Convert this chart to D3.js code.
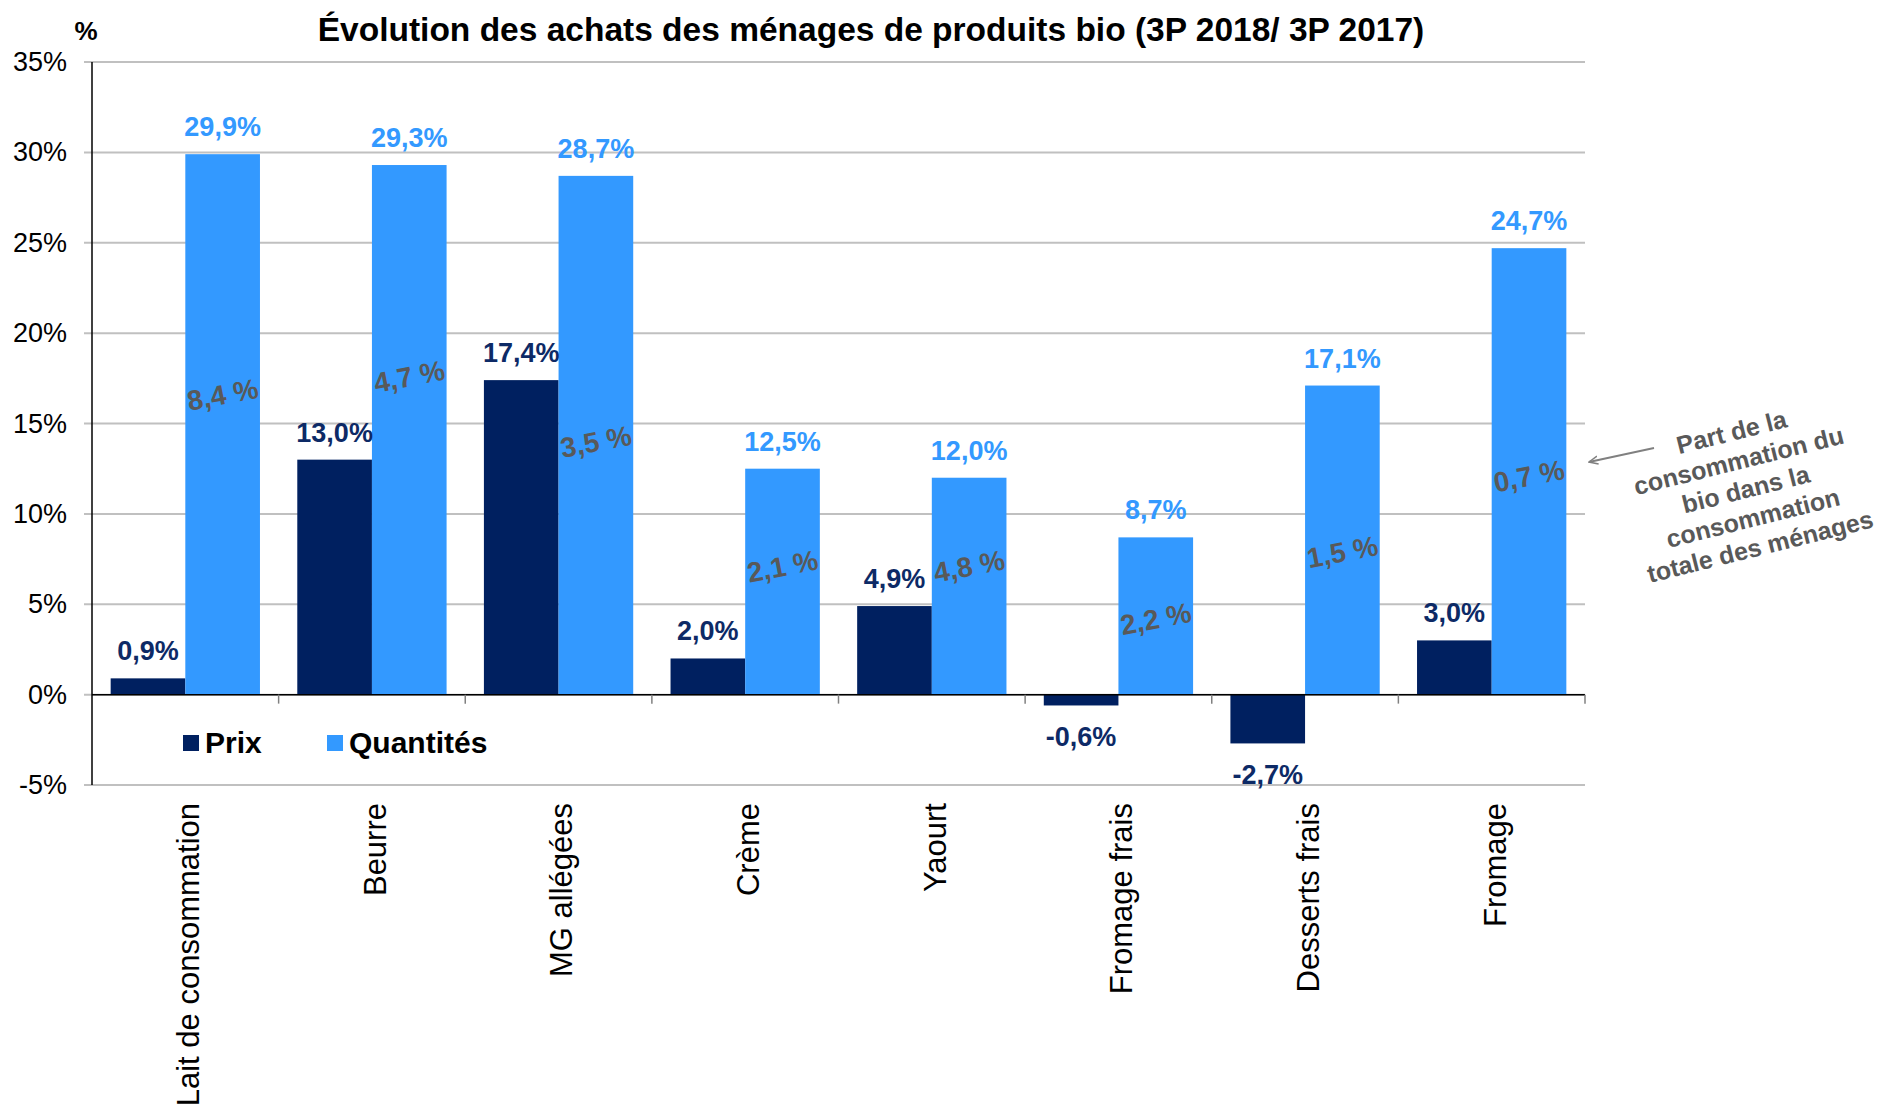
<!DOCTYPE html>
<html>
<head>
<meta charset="utf-8">
<script src="https://cdn.jsdelivr.net/npm/d3@7"></script>
<style>
  body { margin: 0; background: #fff; }
  text { font-family: "Liberation Sans", Arial, sans-serif; }
</style>
</head>
<body>
<script>
// data
var categories = ["Lait de consommation", "Beurre", "MG allégées", "Crème", "Yaourt", "Fromage frais", "Desserts frais", "Fromage"];
var series = ["Prix", "Quantités"];
var prix = [0.9, 13.0, 17.4, 2.0, 4.9, -0.6, -2.7, 3.0];
var quantites = [29.9, 29.3, 28.7, 12.5, 12.0, 8.7, 17.1, 24.7];
var partBio = [8.4, 4.7, 3.5, 2.1, 4.8, 2.2, 1.5, 0.7];
var yTicks = [-5, 0, 5, 10, 15, 20, 25, 30, 35];
var noteLines = ["Part de la", "consommation du", "bio dans la", "consommation", "totale des ménages"];

var width = 1879, height = 1109;
var colors = {"Prix": "#002060", "Quantités": "#3399ff"};
var labelColors = {"Prix": "#0d2a66", "Quantités": "#3399ff"};

// where the grey share labels sit (in % units of the y axis)
var partLabelAt = [16.6, 17.6, 14.0, 7.1, 7.1, 4.2, 7.9, 12.1];

var svg = d3.select("body").append("svg").attr("width", width).attr("height", height);

var x0 = d3.scaleBand().domain(categories).range([92, 1585]).paddingInner(0.2).paddingOuter(0.1);
var x1 = d3.scaleBand().domain(series).range([0, x0.bandwidth()]);
var y = d3.scaleLinear().domain([-5, 35]).range([785, 62]);
var step = x0.step();

var fmt = function(v){ return d3.format(".1f")(v).replace(".", ",").replace("\u2212", "-") + "%"; };

// gridlines
svg.append("g").selectAll("line").data(yTicks).enter().append("line")
  .attr("x1", 84).attr("x2", 1585)
  .attr("y1", function(d){ return y(d); }).attr("y2", function(d){ return y(d); })
  .attr("stroke", "#c0c0c0").attr("stroke-width", 2);

svg.append("g").selectAll("text").data(yTicks).enter().append("text")
  .attr("x", 67).attr("y", function(d){ return y(d) + 9; })
  .attr("text-anchor", "end").attr("font-size", 27).attr("fill", "#000")
  .text(function(d){ return d + "%"; });

// bars
var rows = categories.map(function(c, i){ return {cat: c, i: i, vals: [{s: "Prix", v: prix[i]}, {s: "Quantités", v: quantites[i]}]}; });

var groups = svg.append("g").selectAll("g").data(rows).enter().append("g")
  .attr("transform", function(d){ return "translate(" + x0(d.cat) + ",0)"; });

groups.selectAll("rect").data(function(d){ return d.vals; }).enter().append("rect")
  .attr("x", function(d){ return x1(d.s); })
  .attr("width", x1.bandwidth())
  .attr("y", function(d){ return y(Math.max(0, d.v)); })
  .attr("height", function(d){ return Math.abs(y(d.v) - y(0)); })
  .attr("fill", function(d){ return colors[d.s]; });

groups.selectAll("text.val").data(function(d){ return d.vals; }).enter().append("text")
  .attr("class", "val")
  .attr("x", function(d){ return x1(d.s) + x1.bandwidth() / 2; })
  .attr("y", function(d){ return d.v >= 0 ? y(d.v) - 18 : y(d.v) + 41; })
  .attr("text-anchor", "middle").attr("font-size", 27).attr("font-weight", "bold")
  .attr("fill", function(d){ return labelColors[d.s]; })
  .text(function(d){ return fmt(d.v); });

// grey share labels
svg.append("g").selectAll("text").data(rows).enter().append("text")
  .attr("transform", function(d){
    var cx = x0(d.cat) + x1("Quantités") + x1.bandwidth() / 2;
    return "translate(" + cx + "," + y(partLabelAt[d.i]) + ") rotate(-11)";
  })
  .attr("dy", "0.35em")
  .attr("text-anchor", "middle").attr("font-size", 28).attr("font-weight", "bold")
  .attr("fill", "#595959")
  .text(function(d){ return d3.format(".1f")(partBio[d.i]).replace(".", ",") + " %"; });

// axes lines
svg.append("line").attr("x1", 92).attr("x2", 92).attr("y1", 62).attr("y2", 785)
  .attr("stroke", "#000").attr("stroke-width", 1.5);
svg.append("line").attr("x1", 92).attr("x2", 1585).attr("y1", y(0)).attr("y2", y(0))
  .attr("stroke", "#000").attr("stroke-width", 1.5);
svg.append("g").selectAll("line").data(categories).enter().append("line")
  .attr("x1", function(d){ return x0(d) - x0.paddingOuter() * step + step; })
  .attr("x2", function(d){ return x0(d) - x0.paddingOuter() * step + step; })
  .attr("y1", y(0)).attr("y2", y(0) + 9)
  .attr("stroke", "#808080").attr("stroke-width", 1.5);

// category labels
svg.append("g").selectAll("text").data(categories).enter().append("text")
  .attr("transform", function(d){ return "translate(" + (x0(d) + x0.bandwidth() / 2 + 3) + ",803) rotate(-90)"; })
  .attr("dy", "0.35em").attr("text-anchor", "end").attr("font-size", 31).attr("fill", "#000")
  .text(function(d){ return d; });

// legend
var legend = svg.append("g").attr("transform", "translate(183,743)");
var legX = [0, 144];
series.forEach(function(s, i){
  legend.append("rect").attr("x", legX[i]).attr("y", -8).attr("width", 16).attr("height", 16).attr("fill", colors[s]);
  legend.append("text").attr("x", legX[i] + 22).attr("y", 10).attr("font-size", 30).attr("font-weight", "bold")
    .attr("fill", "#000").text(s);
});

// title and unit
svg.append("text").attr("x", 871).attr("y", 41).attr("text-anchor", "middle")
  .attr("font-size", 33.5).attr("font-weight", "bold").attr("fill", "#000")
  .text("Évolution des achats des ménages de produits bio (3P 2018/ 3P 2017)");
svg.append("text").attr("x", 86).attr("y", 40).attr("text-anchor", "middle")
  .attr("font-size", 26).attr("font-weight", "bold").attr("fill", "#000").text("%");

// side note with arrow
svg.append("defs").append("marker").attr("id", "arr").attr("viewBox", "0 0 10 10")
  .attr("refX", 9).attr("refY", 5).attr("markerWidth", 10).attr("markerHeight", 10)
  .attr("markerUnits", "userSpaceOnUse")
  .attr("orient", "auto")
  .append("path").attr("d", "M0,1 L9,5 L0,9").attr("fill", "none").attr("stroke", "#808080").attr("stroke-width", 1.5);
svg.append("line").attr("x1", 1654).attr("y1", 448).attr("x2", 1589).attr("y2", 462)
  .attr("stroke", "#808080").attr("stroke-width", 2).attr("marker-end", "url(#arr)");

var note = svg.append("g").attr("transform", "translate(1746,490) rotate(-14)");
note.selectAll("text").data(noteLines).enter().append("text")
  .attr("x", 0).attr("y", function(d, i){ return (i - 2) * 29.5 + 8; })
  .attr("text-anchor", "middle").attr("font-size", 25).attr("font-weight", "bold")
  .attr("fill", "#595959").text(function(d){ return d; });
</script>
</body>
</html>
